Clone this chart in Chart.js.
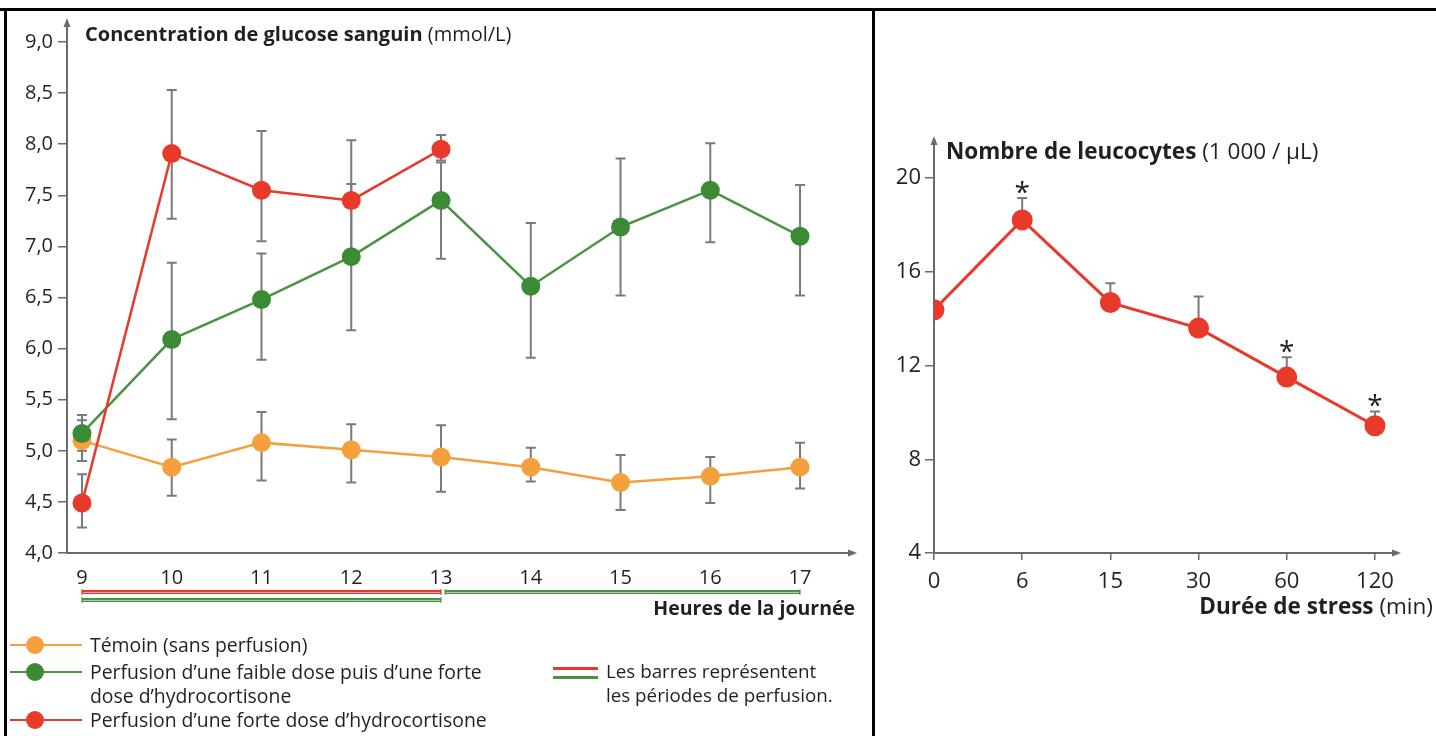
<!DOCTYPE html>
<html lang="fr">
<head>
<meta charset="UTF-8">
<title>Glucose et leucocytes</title>
<script src="https://cdn.jsdelivr.net/npm/chart.js@4.4.1/dist/chart.umd.min.js"></script>
<style>
body {
	margin: 0;
	background: #fff;
}
#page {
	position: relative;
	width: 1436px;
	height: 736px;
	overflow: hidden;
	background: #fff;
}
canvas {
	position: absolute;
	top: 0;
}
.rule {
	position: absolute;
	background: #000;
}
.t {
	position: absolute;
	white-space: nowrap;
	line-height: 1;
	font-family: "Open Sans", sans-serif;
	color: #231f20;
}
.t b {
	font-weight: 700;
}
.sym {
	position: absolute;
}
</style>
</head>
<body>
<div id="page">
	<canvas id="glucose" width="870" height="736" style="left:0"></canvas>
	<canvas id="leuco" width="560" height="736" style="left:876px"></canvas>

	<div class="rule" style="left:0;top:8px;width:1436px;height:3px"></div>
	<div class="rule" style="left:4px;top:8px;width:3px;height:728px"></div>
	<div class="rule" style="left:872px;top:8px;width:3px;height:728px"></div>

	<div class="t" style="left:85px;top:24px;font-size:20px"><b>Concentration de glucose sanguin</b> (mmol/L)</div>
	<div class="t" style="right:581px;top:598px;font-size:19.5px"><b>Heures de la journée</b></div>

	<div class="sym" style="left:10px;top:644px;width:72px;height:2px;background:#f4a03c"></div>
	<div class="sym" style="left:26px;top:636px;width:18px;height:18px;border-radius:50%;background:#f4a03c"></div>
	<div class="t" style="left:90px;top:635px;font-size:19.4px">Témoin (sans perfusion)</div>

	<div class="sym" style="left:10px;top:671px;width:72px;height:2px;background:#4a9344"></div>
	<div class="sym" style="left:26px;top:663px;width:18px;height:18px;border-radius:50%;background:#3b8a35"></div>
	<div class="t" style="left:90px;top:662px;font-size:19.4px">Perfusion d’une faible dose puis d’une forte</div>
	<div class="t" style="left:90px;top:686px;font-size:19.4px">dose d’hydrocortisone</div>

	<div class="sym" style="left:10px;top:719px;width:72px;height:2px;background:#e8392b"></div>
	<div class="sym" style="left:26px;top:711px;width:18px;height:18px;border-radius:50%;background:#e8392b"></div>
	<div class="t" style="left:90px;top:710px;font-size:19.4px">Perfusion d’une forte dose d’hydrocortisone</div>

	<div class="sym" style="left:553px;top:667px;width:45px;height:3px;background:#e8392b"></div>
	<div class="sym" style="left:553px;top:676px;width:45px;height:3px;background:#4a9344"></div>
	<div class="t" style="left:606px;top:662px;font-size:18.8px">Les barres représentent</div>
	<div class="t" style="left:606px;top:686px;font-size:18.8px">les périodes de perfusion.</div>

	<div class="t" style="left:946px;top:140px;font-size:22.5px"><b>Nombre de leucocytes</b> (1 000 / µL)</div>
	<div class="t" style="right:3px;top:595px;font-size:22.5px"><b>Durée de stress</b> (min)</div>
</div>

<script type="text/javascript">

// glucose, left panel
const hours = [9, 10, 11, 12, 13, 14, 15, 16, 17];
const hourLabels = ['9', '10', '11', '12', '13', '14', '15', '16', '17'];
const glucoseTicks = [4.0, 4.5, 5.0, 5.5, 6.0, 6.5, 7.0, 7.5, 8.0, 8.5, 9.0];

const temoin = [5.10, 4.84, 5.08, 5.01, 4.94, 4.84, 4.69, 4.75, 4.84];
const temoinLow = [4.90, 4.56, 4.71, 4.69, 4.60, 4.70, 4.42, 4.49, 4.63];
const temoinHigh = [5.30, 5.11, 5.38, 5.26, 5.25, 5.03, 4.96, 4.94, 5.08];

const faible = [5.17, 6.09, 6.48, 6.90, 7.45, 6.61, 7.19, 7.55, 7.10];
const faibleLow = [5.00, 5.31, 5.89, 6.18, 6.88, 5.91, 6.52, 7.04, 6.52];
const faibleHigh = [5.35, 6.84, 6.93, 7.61, 7.82, 7.23, 7.86, 8.01, 7.60];

const forteHours = [9, 10, 11, 12, 13];
const forte = [4.49, 7.91, 7.55, 7.45, 7.95];
const forteLow = [4.25, 7.27, 7.05, 6.86, 7.84];
const forteHigh = [4.77, 8.53, 8.13, 8.04, 8.09];

// perfusion periods (hours)
const fortePeriods = [[9, 13]];
const faiblePeriods = [[9, 13], [13, 17]];

// leucocytes, right panel
const stressLabels = ['0', '6', '15', '30', '60', '120'];
const leucoTicks = [4, 8, 12, 16, 20];
const leuco = [14.38, 18.22, 14.69, 13.60, 11.51, 9.43];
const leucoHigh = [null, 19.15, 15.52, 14.95, 12.36, 10.04];
const significant = [false, true, false, false, true, true];

const ORANGE = '#f4a03c';
const GREEN = '#3b8a35';
const GREEN_LINE = '#4a9344';
const RED = '#e8392b';
const AXIS = '#6b6b6b';
const ERR = '#7a7a7a';
const TEXT = '#231f20';
const FONT = '"Open Sans", sans-serif';

function points(xs, ys) {
	return xs.map((x, i) => ({x: x, y: ys[i]}));
}

const errorBars = {
	id: 'errorBars',
	beforeDatasetsDraw(chart) {
		const ctx = chart.ctx;
		const y = chart.scales.y;
		ctx.save();
		ctx.strokeStyle = ERR;
		ctx.lineWidth = 2;
		chart.data.datasets.forEach((ds, i) => {
			if (!ds.errHigh) return;
			const meta = chart.getDatasetMeta(i);
			meta.data.forEach((pt, j) => {
				const hi = ds.errHigh[j];
				if (hi == null) return;
				const lo = ds.errLow ? ds.errLow[j] : ds.data[j].y;
				const yHi = y.getPixelForValue(hi);
				const yLo = y.getPixelForValue(lo);
				ctx.beginPath();
				ctx.moveTo(pt.x, yHi);
				ctx.lineTo(pt.x, yLo);
				ctx.moveTo(pt.x - 5, yHi);
				ctx.lineTo(pt.x + 5, yHi);
				if (ds.errLow) {
					ctx.moveTo(pt.x - 5, yLo);
					ctx.lineTo(pt.x + 5, yLo);
				}
				ctx.stroke();
			});
		});
		ctx.restore();
	}
};

const arrows = {
	id: 'arrows',
	afterDraw(chart) {
		const ctx = chart.ctx;
		const a = chart.chartArea;
		ctx.save();
		ctx.fillStyle = AXIS;
		ctx.beginPath();
		ctx.moveTo(a.left, a.top - 4);
		ctx.lineTo(a.left - 3.5, a.top + 5);
		ctx.lineTo(a.left + 3.5, a.top + 5);
		ctx.closePath();
		ctx.fill();
		ctx.beginPath();
		ctx.moveTo(a.right + 4, a.bottom);
		ctx.lineTo(a.right - 5, a.bottom - 3.5);
		ctx.lineTo(a.right - 5, a.bottom + 3.5);
		ctx.closePath();
		ctx.fill();
		ctx.restore();
	}
};

const perfusionBars = {
	id: 'perfusionBars',
	afterDraw(chart) {
		const ctx = chart.ctx;
		const x = chart.scales.x;
		const base = chart.chartArea.bottom + 39;
		function bar(x0, x1, yy, color) {
			ctx.strokeStyle = color;
			ctx.lineWidth = 4;
			ctx.beginPath();
			ctx.moveTo(x0, yy);
			ctx.lineTo(x1, yy);
			ctx.stroke();
			ctx.strokeStyle = 'rgba(255,255,255,0.55)';
			ctx.lineWidth = 1;
			ctx.beginPath();
			ctx.moveTo(x0 + 1, yy + 0.5);
			ctx.lineTo(x1 - 1, yy + 0.5);
			ctx.stroke();
			ctx.strokeStyle = color;
			ctx.lineWidth = 1;
			ctx.beginPath();
			ctx.moveTo(x0, yy - 3);
			ctx.lineTo(x0, yy + 3);
			ctx.moveTo(x1, yy - 3);
			ctx.lineTo(x1, yy + 3);
			ctx.stroke();
		}
		ctx.save();
		fortePeriods.forEach(p => bar(x.getPixelForValue(p[0]), x.getPixelForValue(p[1]), base, RED));
		faiblePeriods.forEach(p => {
			const shared = fortePeriods.some(f => f[0] < p[1] && p[0] < f[1]);
			const x0 = x.getPixelForValue(p[0]) + (shared ? 0 : 4);
			bar(x0, x.getPixelForValue(p[1]), shared ? base + 8 : base, GREEN_LINE);
		});
		ctx.restore();
	}
};

const stars = {
	id: 'stars',
	afterDatasetsDraw(chart) {
		const ctx = chart.ctx;
		const y = chart.scales.y;
		const meta = chart.getDatasetMeta(0);
		ctx.save();
		ctx.fillStyle = TEXT;
		ctx.font = '28px ' + FONT;
		ctx.textAlign = 'center';
		ctx.textBaseline = 'alphabetic';
		significant.forEach((s, i) => {
			if (!s) return;
			const cy = y.getPixelForValue(leucoHigh[i]) - 12;
			ctx.fillText('*', meta.data[i].x, cy + 15.5);
		});
		ctx.restore();
	}
};

function series(label, data, low, high, color, lineColor, order) {
	return {
		label: label,
		data: data,
		errLow: low,
		errHigh: high,
		borderColor: lineColor,
		backgroundColor: color,
		pointBackgroundColor: color,
		pointBorderColor: color,
		pointBorderWidth: 0,
		pointRadius: 9.5,
		borderWidth: 2.5,
		tension: 0,
		order: order
	};
}

new Chart(document.getElementById('glucose'), {
	type: 'line',
	data: {
		datasets: [
			series('Témoin (sans perfusion)', points(hours, temoin), temoinLow, temoinHigh, ORANGE, ORANGE, 2),
			series('Perfusion d’une faible dose puis d’une forte dose d’hydrocortisone', points(hours, faible), faibleLow, faibleHigh, GREEN, GREEN_LINE, 1),
			series('Perfusion d’une forte dose d’hydrocortisone', points(forteHours, forte), forteLow, forteHigh, RED, RED, 0)
		]
	},
	options: {
		responsive: false,
		animation: false,
		layout: {padding: {left: 7, top: 22, right: 17, bottom: 143}},
		plugins: {legend: {display: false}, tooltip: {enabled: false}},
		scales: {
			x: {
				type: 'linear',
				min: 8.833,
				max: 17.59,
				afterBuildTicks: s => { s.ticks = hours.map(v => ({value: v})); },
				afterFit: s => { s.height = 40; },
				grid: {display: false, drawTicks: false},
				border: {color: AXIS, width: 2},
				ticks: {
					autoSkip: false,
					maxRotation: 0,
					padding: 13,
					color: TEXT,
					font: {family: FONT, size: 20},
					callback: (v, i) => hourLabels[i]
				}
			},
			y: {
				min: 4,
				max: 9.196,
				afterBuildTicks: s => { s.ticks = glucoseTicks.map(v => ({value: v})); },
				afterFit: s => { s.width = 60; },
				grid: {drawOnChartArea: false, tickLength: 9, color: AXIS, lineWidth: 1.5},
				border: {color: AXIS, width: 2},
				ticks: {
					padding: 5,
					color: TEXT,
					font: {family: FONT, size: 20},
					callback: v => v.toFixed(1).replace('.', ',')
				}
			}
		}
	},
	plugins: [errorBars, perfusionBars, arrows]
});

new Chart(document.getElementById('leuco'), {
	type: 'line',
	data: {
		datasets: [{
			label: 'Nombre de leucocytes',
			data: points(stressLabels.map((l, i) => i), leuco),
			errHigh: leucoHigh,
			borderColor: RED,
			backgroundColor: RED,
			pointBackgroundColor: RED,
			pointBorderColor: RED,
			pointBorderWidth: 0,
			pointRadius: 10.5,
			borderWidth: 3,
			tension: 0
		}]
	},
	options: {
		responsive: false,
		animation: false,
		layout: {padding: {left: 8, top: 140, right: 39, bottom: 143}},
		plugins: {legend: {display: false}, tooltip: {enabled: false}},
		scales: {
			x: {
				type: 'linear',
				min: 0,
				max: 5.25,
				afterBuildTicks: s => { s.ticks = stressLabels.map((l, i) => ({value: i})); },
				afterFit: s => { s.height = 40; },
				grid: {drawOnChartArea: false, tickLength: 7, color: AXIS, lineWidth: 1.5},
				border: {color: AXIS, width: 2},
				ticks: {
					autoSkip: false,
					maxRotation: 0,
					padding: 9,
					color: TEXT,
					font: {family: FONT, size: 22},
					callback: (v, i) => stressLabels[i]
				}
			},
			y: {
				min: 4,
				max: 21.63,
				afterBuildTicks: s => { s.ticks = leucoTicks.map(v => ({value: v})); },
				afterFit: s => { s.width = 50; },
				grid: {drawOnChartArea: false, tickLength: 9, color: AXIS, lineWidth: 1.5},
				border: {color: AXIS, width: 2},
				ticks: {
					padding: 4,
					color: TEXT,
					font: {family: FONT, size: 22}
				}
			}
		}
	},
	plugins: [errorBars, stars, arrows]
});

</script>
</body>
</html>
